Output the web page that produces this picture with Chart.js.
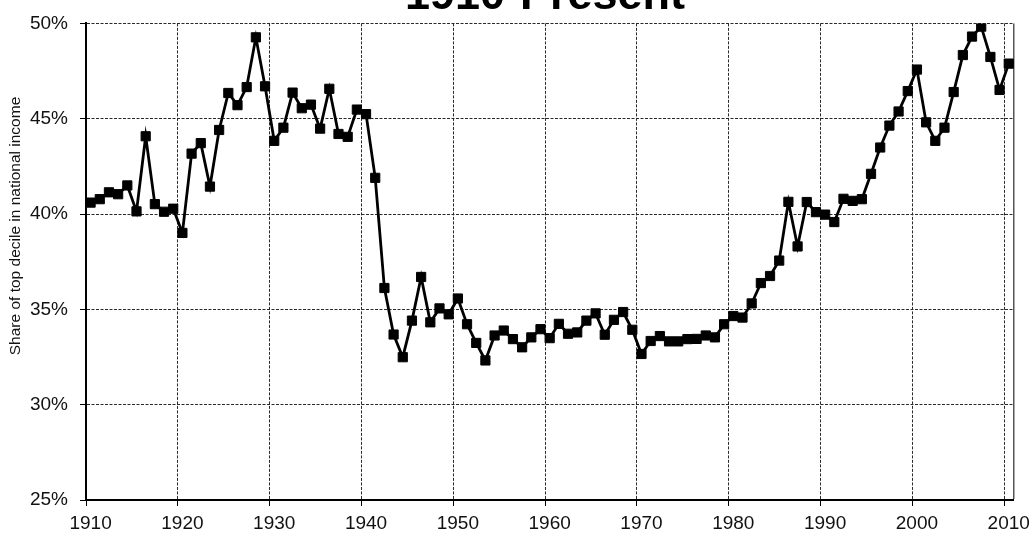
<!DOCTYPE html>
<html>
<head>
<meta charset="utf-8">
<script src="https://cdn.jsdelivr.net/npm/chart.js@4/dist/chart.umd.min.js"></script>
<style>
  html, body { margin: 0; padding: 0; background: #fff; }
  #wrap { width: 1036px; height: 536px; }
</style>
</head>
<body>
<div id="wrap"><canvas id="decileChart" width="1036" height="536"></canvas></div>
<script>
// Top decile share of national income, US, one value per year
const years = [
    1910, 1911, 1912, 1913, 1914, 1915, 1916, 1917, 1918, 1919,
    1920, 1921, 1922, 1923, 1924, 1925, 1926, 1927, 1928, 1929,
    1930, 1931, 1932, 1933, 1934, 1935, 1936, 1937, 1938, 1939,
    1940, 1941, 1942, 1943, 1944, 1945, 1946, 1947, 1948, 1949,
    1950, 1951, 1952, 1953, 1954, 1955, 1956, 1957, 1958, 1959,
    1960, 1961, 1962, 1963, 1964, 1965, 1966, 1967, 1968, 1969,
    1970, 1971, 1972, 1973, 1974, 1975, 1976, 1977, 1978, 1979,
    1980, 1981, 1982, 1983, 1984, 1985, 1986, 1987, 1988, 1989,
    1990, 1991, 1992, 1993, 1994, 1995, 1996, 1997, 1998, 1999,
    2000, 2001, 2002, 2003, 2004, 2005, 2006, 2007, 2008, 2009,
    2010
];

const topDecileShare = [
    40.60, 40.78, 41.14, 41.04, 41.50, 40.14, 44.08, 40.52, 40.12, 40.28,
    39.01, 43.17, 43.72, 41.44, 44.41, 46.35, 45.71, 46.66, 49.27, 46.70,
    43.84, 44.53, 46.37, 45.55, 45.74, 44.48, 46.57, 44.20, 44.05, 45.48,
    45.24, 41.90, 36.12, 33.68, 32.49, 34.41, 36.70, 34.32, 35.05, 34.74,
    35.57, 34.22, 33.24, 32.32, 33.63, 33.89, 33.44, 33.01, 33.53, 33.96,
    33.49, 34.24, 33.72, 33.79, 34.41, 34.79, 33.67, 34.45, 34.86, 33.93,
    32.66, 33.34, 33.60, 33.32, 33.32, 33.44, 33.45, 33.63, 33.53, 34.22,
    34.65, 34.57, 35.31, 36.38, 36.75, 37.56, 40.64, 38.30, 40.63, 40.10,
    39.97, 39.58, 40.80, 40.69, 40.78, 42.11, 43.49, 44.64, 45.38, 46.45,
    47.58, 44.81, 43.84, 44.53, 46.40, 48.34, 49.31, 49.83, 48.24, 46.51,
    47.89
];

const yTicks = [25, 30, 35, 40, 45, 50];

const chartTitle = "1910-Present";
const yAxisTitle = "Share of top decile in national income";

const FONT = '"Liberation Sans", Arial, sans-serif';
const GRID_COLOR = '#2a2a2a';
const GRID_DASH = [3, 1.5];

// only decade boundaries get a grid line and a label;
// the closing line after the last year is the solid right frame
const isDecade = i => years[i] !== undefined && years[i] % 10 === 0;
const isFrame = c => c.index === undefined;

// chart title (runs off the top edge) and the rotated y caption
const captions = {
    id: 'captions',
    afterDraw(chart) {
        const ctx = chart.ctx;
        ctx.save();
        ctx.fillStyle = '#000';
        ctx.font = 'bold 45px ' + FONT;
        ctx.textAlign = 'center';
        ctx.textBaseline = 'alphabetic';
        ctx.fillText(chartTitle, 545, 9);

        ctx.translate(16, 226);
        ctx.rotate(-Math.PI / 2);
        ctx.font = '15.5px ' + FONT;
        ctx.textBaseline = 'middle';
        ctx.fillStyle = '#111';
        ctx.fillText(yAxisTitle, 0, 0);
        ctx.restore();
    }
};

const ctx = document.getElementById('decileChart').getContext('2d');
const decileChart = new Chart(ctx, {
    type: 'line',
    data: {
        labels: years,
        datasets: [{
            label: 'Top decile share',
            data: topDecileShare,
            borderColor: '#000',
            backgroundColor: '#000',
            borderWidth: 2.8,
            tension: 0,
            pointStyle: 'rect',
            pointRadius: 6.5,
            pointBorderWidth: 1,
            pointBackgroundColor: '#000',
            pointBorderColor: '#000'
        }]
    },
    options: {
        responsive: false,
        animation: false,
        devicePixelRatio: 1,
        layout: { padding: { left: 0, right: 22, top: 19, bottom: 0 } },
        plugins: {
            legend: { display: false },
            tooltip: { enabled: false },
            title: { display: false }
        },
        scales: {
            x: {
                type: 'category',
                offset: true,
                afterFit(scale) { scale.height = 36; },
                ticks: {
                    autoSkip: false,
                    maxRotation: 0,
                    minRotation: 0,
                    padding: 6,
                    color: '#111',
                    font: { family: FONT, size: 19 },
                    callback: (val, i) => isDecade(i) ? String(years[i]) : ''
                },
                grid: {
                    offset: true,
                    lineWidth: c => isFrame(c) ? 1.5 : 1,
                    color: c => isFrame(c) ? '#555' : (isDecade(c.index) ? GRID_COLOR : 'rgba(0,0,0,0)'),
                    drawTicks: true,
                    tickLength: 6,
                    tickWidth: 1,
                    tickColor: c => isDecade(c.index) ? '#000' : 'rgba(0,0,0,0)',
                    tickBorderDash: []
                },
                border: {
                    display: true,
                    color: '#000',
                    width: 2,
                    dash: c => isFrame(c) ? [] : GRID_DASH
                }
            },
            y: {
                min: 25,
                max: 50,
                afterFit(scale) { scale.width = 86; },
                afterBuildTicks(scale) { scale.ticks = yTicks.map(v => ({ value: v })); },
                ticks: {
                    padding: 12,
                    color: '#111',
                    font: { family: FONT, size: 19 },
                    callback: v => v + '%'
                },
                grid: {
                    color: GRID_COLOR,
                    lineWidth: 1,
                    drawTicks: true,
                    tickLength: 6,
                    tickColor: '#000',
                    tickWidth: 1,
                    tickBorderDash: []
                },
                border: { display: true, color: '#000', width: 2, dash: GRID_DASH }
            }
        }
    },
    plugins: [captions]
});
</script>
</body>
</html>
